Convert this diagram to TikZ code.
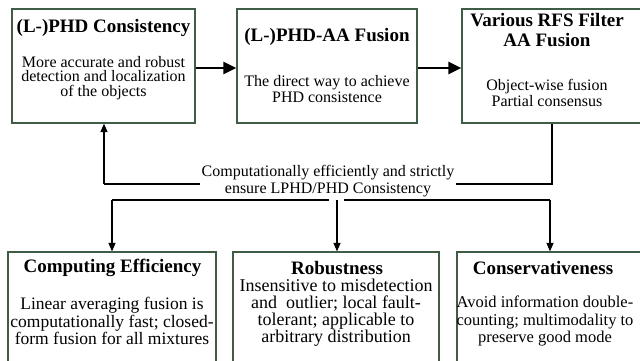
\documentclass[tikz,border=0pt]{standalone}
\usepackage{fontspec}
\setmainfont{Liberation Serif}
\usetikzlibrary{arrows.meta}
\definecolor{boxline}{RGB}{62,92,70}
\tikzset{
  box/.style={draw=boxline, line width=1.2pt, fill=white, inner sep=0pt},
  ttl/.style={font=\fontsize{19}{21}\selectfont\bfseries, align=center, inner sep=0pt},
  bodytxt/.style={font=\fontsize{16}{16.5}\selectfont, align=center, inner sep=0pt},
  lowtxt/.style={font=\fontsize{17.5}{17.3}\selectfont, align=center, inner sep=0pt},
  bigarrow/.style={line width=2.6pt, -{Triangle[length=13pt,width=12pt]}},
  smallarrow/.style={line width=1.2pt, -{Triangle[length=8.5pt,width=7pt]}},
  plainline/.style={line width=1.2pt},
}
\begin{document}
\begin{tikzpicture}[x=1pt,y=-1pt]
\useasboundingbox (0,0) rectangle (640,360);
\clip (0,0) rectangle (640,360);
% top boxes
\node[box, minimum width=183pt, minimum height=114pt] (b1) at (103.5,66) {};
\node[box, minimum width=180pt, minimum height=114pt] (b2) at (327,66) {};
\node[box, minimum width=183pt, minimum height=114pt] (b3) at (553.5,66) {};
% bottom boxes
\node[box, minimum width=208pt, minimum height=120pt] (b4) at (112,312) {};
\node[box, minimum width=206pt, minimum height=120pt] (b5) at (336,312) {};
\node[box, minimum width=208pt, minimum height=120pt] (b6) at (561,312) {};
% texts top
\node[ttl] (t1) at (103.5,28) {(L-)PHD Consistency};
\node[bodytxt, font=\fontsize{16}{14.8}\selectfont] (d1) at (103.5,78) {More accurate and robust\\detection and localization\\of the objects};
\node[ttl] (t2) at (327,37) {(L-)PHD-AA Fusion};
\node[bodytxt] (d2) at (327,89) {The direct way to achieve\\PHD consistence};
\node[ttl, font=\fontsize{19}{20.5}\selectfont\bfseries] (t3) at (547,30) {Various RFS Filter\\AA Fusion};
\node[bodytxt] (d3) at (547,93) {Object-wise fusion\\Partial consensus};
% texts bottom
\node[ttl] (t4) at (112.5,268) {Computing Efficiency};
\node[lowtxt] (d4) at (112,321) {Linear averaging fusion is\\computationally fast; closed-\\form fusion for all mixtures};
\node[ttl] (t5) at (337,268) {Robustness};
\node[lowtxt, font=\fontsize{18}{17.2}\selectfont] (d5) at (336,312.5) {Insensitive to misdetection\\and\ \ outlier; local fault-\\tolerant; applicable to\\arbitrary distribution};
\node[ttl] (t6) at (543,268) {Conservativeness};
\node[lowtxt, font=\fontsize{16.5}{17.2}\selectfont] (d6) at (545,321) {Avoid information double-\\counting; multimodality to\\preserve good mode};
% top arrows
\draw[bigarrow] (b1.east |- 0,68) -- (b2.west |- 0,68);
\draw[bigarrow] (b2.east |- 0,68) -- (b3.west |- 0,68);
% feedback
\coordinate (fr) at (552,184);
\coordinate (fl) at (104,184);
\draw[plainline] (b3.south -| fr) -- (fr) -- (fl);
\draw[smallarrow] (fl) -- (b1.south -| fl);
\node[font=\fontsize{16}{17}\selectfont, align=center, fill=white, inner sep=2pt] (lbl) at (328,181) {Computationally efficiently and strictly\\ensure LPHD/PHD Consistency};
% distribution
\coordinate (hl) at (112,200);
\coordinate (hr) at (550,200);
\coordinate (hm) at (337,200);
\coordinate (gl) at (329,200);
\coordinate (gr) at (344,200);
\draw[plainline] (hl) -- (gl);
\draw[plainline] (gr) -- (hr);
\draw[smallarrow] (hl) -- (b4.north -| hl);
\draw[smallarrow] (hm) -- (b5.north -| hm);
\draw[smallarrow] (hr) -- (b6.north -| hr);
\end{tikzpicture}
\end{document}
